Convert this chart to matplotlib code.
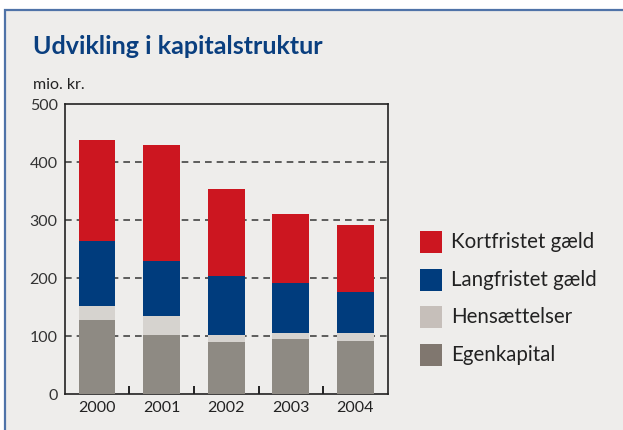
import numpy as np
import matplotlib.pyplot as plt
from matplotlib.patches import Rectangle

plt.rcParams['font.family'] = ['Lato', 'DejaVu Sans']

# Data (mio. kr.)
years = ['2000', '2001', '2002', '2003', '2004']
egenkapital = np.array([127, 102, 90, 94, 92])
hensaettelser = np.array([25, 33, 12, 12, 14])
langfristet = np.array([112, 95, 102, 86, 70])
kortfristet = np.array([174, 199, 150, 119, 116])

bg = '#EEEDEB'
c_egen, c_hens, c_lang, c_kort = '#8E8A83', '#D6D3CF', '#003C7D', '#CC1620'

fig = plt.figure(figsize=(6.23, 4.30), dpi=100)
fig.patch.set_facecolor('white')

# panel background with blue frame on top/left
fig.patches.append(Rectangle((5 / 623, -0.1), 1.2, (430 - 10) / 430 + 0.1,
                             transform=fig.transFigure, facecolor=bg,
                             edgecolor='#4F73A8', linewidth=1.6, zorder=-10))

ax = fig.add_axes([64.7 / 623, 36 / 430, 323 / 623, 290 / 430])
ax.set_facecolor('none')

x = np.arange(len(years))
w = 0.57
ax.bar(x, egenkapital, w, color=c_egen, zorder=3)
ax.bar(x, hensaettelser, w, bottom=egenkapital, color=c_hens, zorder=3)
b2 = egenkapital + hensaettelser
ax.bar(x, langfristet, w, bottom=b2, color=c_lang, zorder=3)
ax.bar(x, kortfristet, w, bottom=b2 + langfristet, color=c_kort, zorder=3)

ax.set_xlim(-0.5, 4.5)
ax.set_ylim(0, 500)
ax.set_yticks([0, 100, 200, 300, 400, 500])
ax.set_xticks(x)
ax.set_xticklabels(years)
ax.set_xticks(x[:-1] + 0.5, minor=True)
ax.tick_params(axis='y', length=0, pad=5, labelsize=11.5, labelcolor='#333333')
ax.tick_params(axis='x', which='major', length=0, pad=5, labelsize=11.5, labelcolor='#222222')
ax.tick_params(axis='x', which='minor', direction='in', length=6, width=1.2)
for s in ax.spines.values():
    s.set_linewidth(1.2)
    s.set_color('#222222')
for yv in [100, 200, 300, 400]:
    ax.axhline(yv, color='#444444', linestyle=(0, (4, 3)), linewidth=1.2, zorder=2)

fig.text(33 / 623, 1 - 47 / 430, 'Udvikling i kapitalstruktur', fontsize=18,
         fontweight='bold', color='#0A3F7F', va='center', ha='left')
fig.text(33 / 623, 1 - 85 / 430, 'mio. kr.', fontsize=11.5, color='#222222',
         va='center', ha='left')

labels = ['Kortfristet gæld', 'Langfristet gæld', 'Hensættelser', 'Egenkapital']
leg_colors = [c_kort, c_lang, '#C6BFBA', '#80776F']
ys = [242, 280, 317, 355]
for lab, col, yy in zip(labels, leg_colors, ys):
    fig.patches.append(Rectangle((420 / 623, 1 - (yy + 11) / 430), 22 / 623, 22 / 430,
                                 transform=fig.transFigure, facecolor=col,
                                 edgecolor='none'))
    fig.text(451 / 623, 1 - yy / 430, lab, fontsize=14.8, color='#222222',
             va='center', ha='left')

fig.savefig('out.png', dpi=100, facecolor=fig.get_facecolor())
